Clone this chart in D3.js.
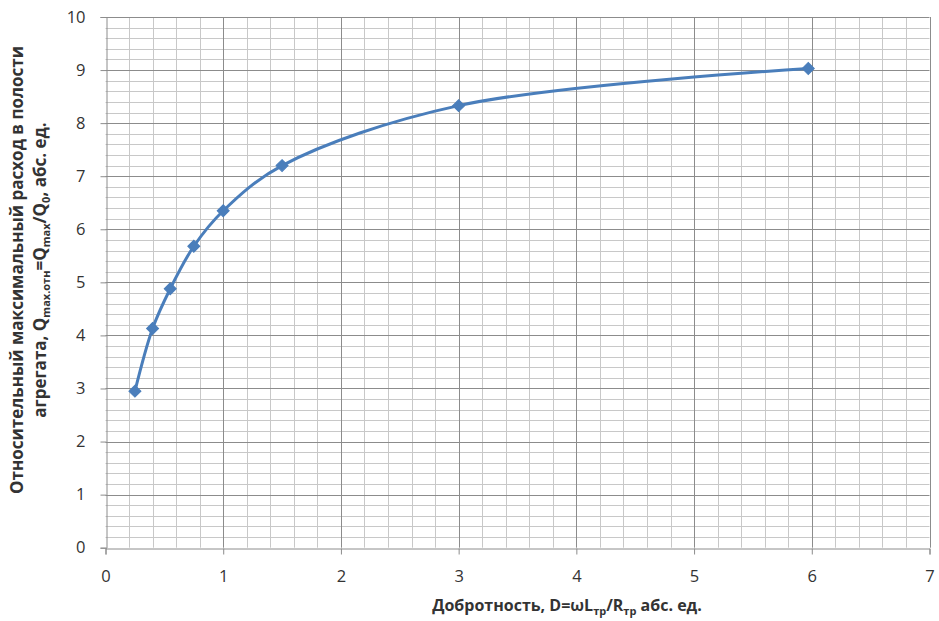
<!DOCTYPE html>
<html><head><meta charset="utf-8">
<script src="https://cdn.jsdelivr.net/npm/d3@7"></script>
<style>body{margin:0;background:#fff}</style>
</head><body>
<svg id="c" width="939" height="621"></svg>
<script>
const xValues = [0.25, 0.4, 0.55, 0.75, 1.0, 1.5, 3.0, 5.97];
const yValues = [2.95, 4.13, 4.88, 5.68, 6.35, 7.2, 8.33, 9.03];
const xTicks = [0,1,2,3,4,5,6,7];
const yTicks = [0,1,2,3,4,5,6,7,8,9,10];

const svg = d3.select("#c");
const L=105.5, R=929.5, T=17, B=547.7;
const x = d3.scaleLinear().domain([0,7]).range([L,R]);
const y = d3.scaleLinear().domain([0,10]).range([B,T]);
const font = "'Open Sans', 'Noto Sans', sans-serif";

const g = svg.append("g");
const minorX = d3.range(0,7.001,0.2).filter(v=>Math.abs(v-Math.round(v))>1e-6);
const minorY = d3.range(0,10.001,0.2).filter(v=>Math.abs(v-Math.round(v))>1e-6);
g.selectAll(".mx").data(minorX).enter().append("line")
 .attr("x1",d=>Math.round(x(d))+0.5).attr("x2",d=>Math.round(x(d))+0.5).attr("y1",T).attr("y2",B)
 .attr("stroke","#c8c8c8").attr("stroke-width",1);
g.selectAll(".my").data(minorY).enter().append("line")
 .attr("y1",d=>Math.round(y(d))+0.5).attr("y2",d=>Math.round(y(d))+0.5).attr("x1",L).attr("x2",R)
 .attr("stroke","#c8c8c8").attr("stroke-width",1);
g.selectAll(".Mx").data(xTicks.slice(1)).enter().append("line")
 .attr("x1",d=>Math.round(x(d))+0.5).attr("x2",d=>Math.round(x(d))+0.5).attr("y1",T).attr("y2",B)
 .attr("stroke","#8c8c8c").attr("stroke-width",1);
g.selectAll(".My").data(yTicks.slice(1)).enter().append("line")
 .attr("y1",d=>Math.round(y(d))+0.5).attr("y2",d=>Math.round(y(d))+0.5).attr("x1",L).attr("x2",R)
 .attr("stroke","#8c8c8c").attr("stroke-width",1);

const xAxis = d3.axisBottom(x).tickValues(xTicks).tickSize(6).tickPadding(16).tickFormat(d3.format("d"));
const yAxis = d3.axisLeft(y).tickValues(yTicks).tickSize(6).tickPadding(15).tickFormat(d3.format("d"));
const gx = svg.append("g").attr("transform",`translate(0,${Math.round(B)+0.5})`).call(xAxis);
const gy = svg.append("g").attr("transform",`translate(${Math.round(L)+0.5},0)`).call(yAxis);
[gx,gy].forEach(a=>{
  a.select(".domain").attr("stroke","#8c8c8c");
  a.selectAll(".tick line").attr("stroke","#8c8c8c");
  a.selectAll(".tick text").attr("font-family",font).attr("font-size",16.5).attr("fill","#333");
});

const pts = xValues.map((v,i)=>[v,yValues[i]]);
const line = d3.line().x(d=>x(d[0])).y(d=>y(d[1])).curve(d3.curveCatmullRom.alpha(0.5));
svg.append("path").datum(pts).attr("d",line).attr("fill","none")
 .attr("stroke","#4a7ebb").attr("stroke-width",3);
svg.selectAll(".pt").data(pts).enter().append("path")
 .attr("d",d3.symbol().type(d3.symbolSquare).size(72))
 .attr("transform",d=>`translate(${x(d[0])},${y(d[1])}) rotate(45)`)
 .attr("fill","#4a7ebb").attr("stroke","#4a7ebb").attr("stroke-width",1);

const xl = svg.append("text").attr("x",567).attr("y",611).attr("text-anchor","middle")
 .attr("font-family",font).attr("font-size",16).attr("font-weight","bold").attr("fill","#333");
xl.append("tspan").text("Добротность, D=ωL");
xl.append("tspan").attr("font-size",11).attr("dy",4).text("тр");
xl.append("tspan").attr("dy",-4).text("/R");
xl.append("tspan").attr("font-size",11).attr("dy",4).text("тр");
xl.append("tspan").attr("dy",-4).text(" абс. ед.");

const yl = svg.append("g").attr("transform","translate(0,270) rotate(-90)");
yl.append("text").attr("x",0).attr("y",23).attr("text-anchor","middle")
 .attr("font-family",font).attr("font-size",17).attr("font-weight","bold").attr("fill","#333")
 .text("Относительный максимальный расход в полости");
const y2 = yl.append("text").attr("x",0).attr("y",46).attr("text-anchor","middle")
 .attr("font-family",font).attr("font-size",17).attr("font-weight","bold").attr("fill","#333");
y2.append("tspan").text("агрегата, Q");
y2.append("tspan").attr("font-size",11).attr("dy",4).text("max.отн");
y2.append("tspan").attr("dy",-4).text("=Q");
y2.append("tspan").attr("font-size",11).attr("dy",4).text("max");
y2.append("tspan").attr("dy",-4).text("/Q");
y2.append("tspan").attr("font-size",11).attr("dy",4).text("0");
y2.append("tspan").attr("dy",-4).text(",  абс. ед.");
</script>
</body></html>
